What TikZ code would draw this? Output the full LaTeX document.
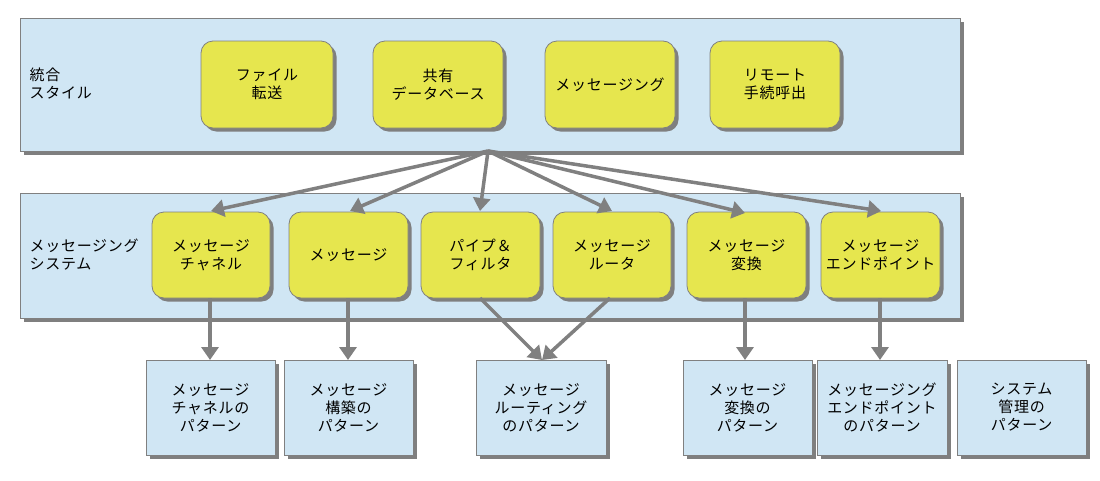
\documentclass[tikz,border=0pt]{standalone}
\usepackage{fontspec}
\setmainfont{Noto Sans CJK JP}[LetterSpace=5]
\usetikzlibrary{shadows,arrows.meta}
\definecolor{lblue}{HTML}{D0E6F4}
\definecolor{yel}{HTML}{E6E64E}
\definecolor{edge}{HTML}{808080}
\definecolor{shad}{HTML}{7F7F7F}
\tikzset{
  sh/.style={drop shadow={shadow xshift=3.5pt,shadow yshift=-3.5pt,fill=shad,opacity=1}},
  panel/.style={draw=edge,fill=lblue,sh,line width=0.8pt},
  ybox/.style={draw=edge,fill=yel,sh,rounded corners=12pt,line width=0.8pt},
  pbox/.style={draw=edge,fill=lblue,sh,line width=0.8pt},
  lbl/.style={font=\fontsize{15}{18}\selectfont,align=center,text=black},
  arr/.style={draw=edge,line width=3.5pt,-{Triangle[length=13pt,width=17pt]}},
}
\begin{document}
\begin{tikzpicture}[x=1pt,y=-1pt]
\useasboundingbox[fill=white] (0,0) rectangle (1100,480);
% panels
\path[panel] (20,18) rectangle (960,151);
\path[panel] (20,193) rectangle (960,318);
\node[lbl,align=left,anchor=west] (l1) at (26,84) {統合\\スタイル};
\node[lbl,align=left,anchor=west] (l2) at (26,255) {メッセージング\\システム};
% top row
\path[ybox] (201,41) rectangle (333,128);
\node[lbl] (ft) at (267,84.5) {ファイル\\転送};
\path[ybox] (373,41) rectangle (503,128);
\node[lbl] (db) at (438,84.5) {共有\\データベース};
\path[ybox] (545,41) rectangle (675,128);
\node[lbl] (ms) at (610,84.5) {メッセージング};
\path[ybox] (710,41) rectangle (840,128);
\node[lbl] (rp) at (775,84.5) {リモート\\手続呼出};
% second row
\path[ybox] (152,212) rectangle (270,298);
\node[lbl] (ch) at (211,255) {メッセージ\\チャネル};
\path[ybox] (289,212) rectangle (408,298);
\node[lbl] (mg) at (348.5,255) {メッセージ};
\path[ybox] (421,212) rectangle (540,298);
\node[lbl] (pf) at (480.5,255) {パイプ＆\\フィルタ};
\path[ybox] (553,212) rectangle (671,298);
\node[lbl] (rt) at (612,255) {メッセージ\\ルータ};
\path[ybox] (687,212) rectangle (806,298);
\node[lbl] (tr) at (746.5,255) {メッセージ\\変換};
\path[ybox] (821,212) rectangle (940,298);
\node[lbl] (ep) at (880.5,255) {メッセージ\\エンドポイント};
% bottom row
\path[pbox] (146,360) rectangle (275,455);
\node[lbl] (pch) at (210.5,407.5) {メッセージ\\チャネルの\\パターン};
\path[pbox] (284,360) rectangle (413,455);
\node[lbl] (pmg) at (348.5,407.5) {メッセージ\\構築の\\パターン};
\path[pbox] (476,360) rectangle (606,455);
\node[lbl] (prt) at (541,407.5) {メッセージ\\ルーティング\\のパターン};
\path[pbox] (683,360) rectangle (812,455);
\node[lbl] (ptr) at (747.5,407.5) {メッセージ\\変換の\\パターン};
\path[pbox] (817,360) rectangle (947,455);
\node[lbl] (pep) at (882,407.5) {メッセージング\\エンドポイント\\のパターン};
\path[pbox] (957,360) rectangle (1086,455);
\node[lbl] (psy) at (1021.5,407.5) {システム\\管理の\\パターン};
% connectors
\coordinate (hub) at (488,151);
\coordinate (tch) at (211,211);
\coordinate (tmg) at (350,211);
\coordinate (tpf) at (480,211);
\coordinate (trt) at (612,211);
\coordinate (ttr) at (745,213);
\coordinate (tep) at (881,211);
\foreach \t in {tch,tmg,tpf,trt,ttr,tep} \draw[arr] (hub) -- (\t);
\draw[arr] (210,298) -- (210,360);
\draw[arr] (348,298) -- (348,360);
\draw[arr] (480,298) -- (542,360);
\draw[arr] (610,298) -- (542,360);
\draw[arr] (745,298) -- (745,360);
\draw[arr] (880,298) -- (880,360);
\end{tikzpicture}
\end{document}
